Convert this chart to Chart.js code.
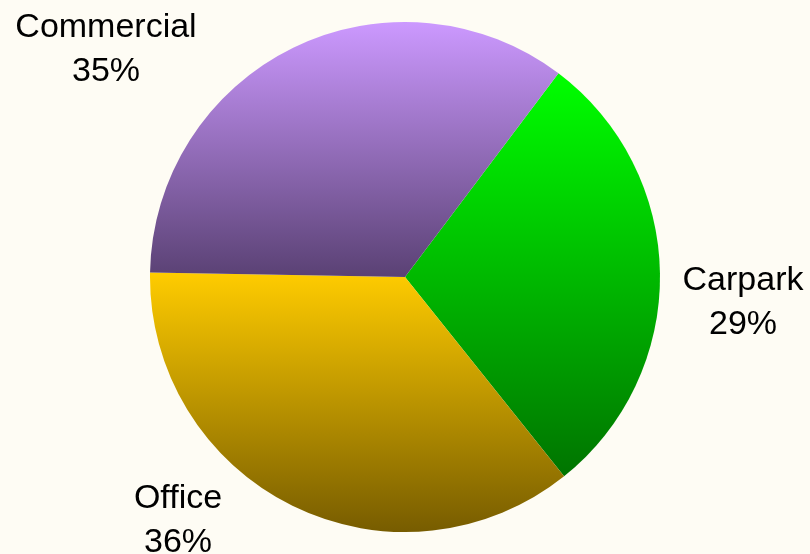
<!DOCTYPE html>
<html>
<head>
<meta charset="utf-8">
<script src="https://cdn.jsdelivr.net/npm/chart.js@4.4.0/dist/chart.umd.min.js"></script>
<style>
  html, body { margin: 0; padding: 0; background: #fefcf4; }
  #wrap { width: 810px; height: 554px; position: relative; }
</style>
</head>
<body>
<div id="wrap"><canvas id="c" width="810" height="554"></canvas></div>
<script>
// ---- data ----
const categories = ['Carpark', 'Office', 'Commercial'];
const values = [29, 36, 35];

// ---- styles ----
const gradTop = ['#00ff00', '#ffcc00', '#cc99ff'];
const gradBottom = ['#007400', '#775c00', '#5a4174'];
const ROTATION = 37; // degrees, clockwise from top
// label anchor offsets (px) from pie center for first text line baseline
const labelOffsets = [[338, 13], [-227, 231], [-299, -240]];

function sliceGradient(ctx) {
  const chart = ctx.chart;
  const area = chart.chartArea;
  const i = ctx.dataIndex;
  if (!area) return gradTop[i];
  const cx = (area.left + area.right) / 2, cy = (area.top + area.bottom) / 2;
  const r = Math.min(area.width, area.height) / 2;
  const data = chart.data.datasets[0].data;
  const total = data.reduce((a, b) => a + b, 0);
  let start = -Math.PI / 2 + ROTATION * Math.PI / 180;
  for (let k = 0; k < i; k++) start += data[k] / total * 2 * Math.PI;
  const end = start + data[i] / total * 2 * Math.PI;
  let minY = cy, maxY = cy;
  for (let s = 0; s <= 200; s++) {
    const a = start + (end - start) * s / 200;
    const y = cy + r * Math.sin(a);
    minY = Math.min(minY, y); maxY = Math.max(maxY, y);
  }
  const g = chart.ctx.createLinearGradient(0, minY, 0, maxY);
  g.addColorStop(0, gradTop[i]);
  g.addColorStop(1, gradBottom[i]);
  return g;
}

const labelPlugin = {
  id: 'outerLabels',
  afterDatasetsDraw(chart) {
    const meta = chart.getDatasetMeta(0);
    const data = chart.data.datasets[0].data;
    const total = data.reduce((a, b) => a + b, 0);
    const c = chart.ctx;
    c.save();
    c.font = '34px "Liberation Sans", Arial, sans-serif';
    c.fillStyle = '#000';
    c.textAlign = 'center';
    c.textBaseline = 'alphabetic';
    meta.data.forEach((el, i) => {
      const x = el.x + labelOffsets[i][0];
      const y = el.y + labelOffsets[i][1];
      c.fillText(chart.data.labels[i], x, y);
      c.fillText(Math.round(data[i] / total * 100) + '%', x, y + 44);
    });
    c.restore();
  }
};

new Chart(document.getElementById('c'), {
  type: 'pie',
  data: {
    labels: categories,
    datasets: [{
      data: values,
      backgroundColor: sliceGradient,
      borderWidth: 0
    }]
  },
  options: {
    responsive: false,
    animation: false,
    rotation: ROTATION,
    layout: { padding: { left: 150, right: 150, top: 22, bottom: 22 } },
    plugins: { legend: { display: false }, tooltip: { enabled: false } }
  },
  plugins: [labelPlugin]
});
</script>
</body>
</html>
